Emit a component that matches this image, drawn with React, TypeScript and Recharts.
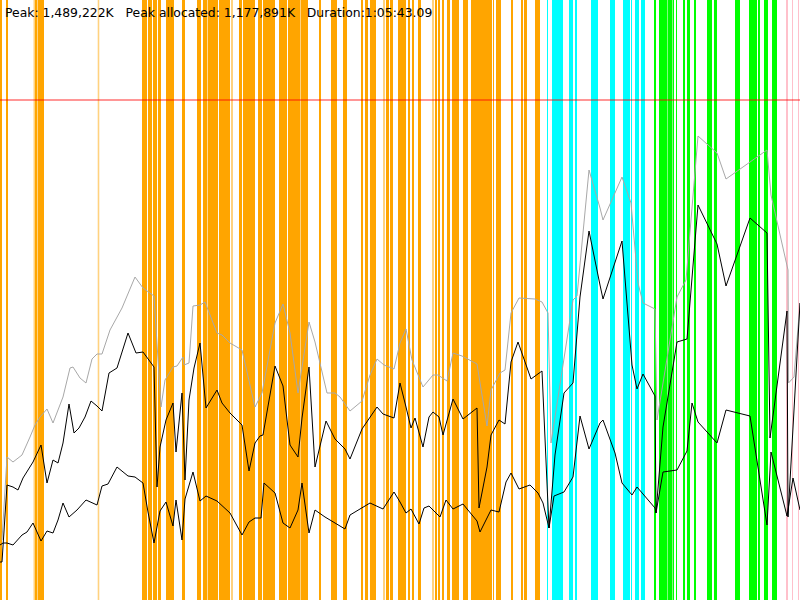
import { LineChart, Line, XAxis, YAxis, ReferenceArea, ReferenceLine } from 'recharts'

// time axis: 800 samples over the whole run, memory in MB
const duration = 800
const memoryMax = 1800
const peakLimit = 1500

const title = 'Peak: 1,489,222K   Peak allocated: 1,177,891K   Duration:1:05:43.09'

// [start, end] of phases, in samples
const orangePhases: [number, number][] = [
  [0, 2], [6, 8], [35, 37.5], [38, 44], [142, 147], [148, 152], [153, 157], [158, 161],
  [166, 174], [182, 185], [197, 201], [203, 207], [207.6, 218], [219, 230], [239, 242],
  [243, 255], [258, 262], [263, 275], [279, 287], [288, 300], [300.5, 308], [319, 321],
  [331, 337], [343, 347], [361, 363], [365, 368], [370, 376], [386, 389], [390, 393],
  [398, 406], [408, 410], [412, 414], [418, 421], [435, 437], [438, 440], [442, 444],
  [447, 450], [452, 459], [463, 468], [471, 492], [493, 494], [496, 501], [511, 513],
  [521, 523], [524, 527], [535, 540],
]
const paleOrangePhases: [number, number][] = [
  [33.5, 35], [97.7, 99.3], [231, 233], [383, 385], [432, 434],
]
const cyanPhases: [number, number][] = [
  [547, 548], [552, 563], [569, 573], [575, 577], [591, 598], [610, 615], [623, 630],
  [631, 632], [635, 639], [641, 645],
]
const greenPhases: [number, number][] = [
  [654, 656], [659, 667], [667.5, 672], [672.5, 674], [676, 677], [683, 685], [687, 690],
  [694, 696], [707, 712], [714, 717], [735, 740], [749, 757], [758, 760], [764, 768],
  [772, 777],
]
const pinkPhases: [number, number][] = [[786, 788], [792, 793], [798, 799]]

// [sample, MB]
const peakMemory: [number, number][] = [
  [2, 180], [7, 429], [13, 414], [22, 435], [30, 489], [35, 525], [40, 549], [47, 573],
  [53, 531], [63, 609], [70, 696], [73, 699], [80, 666], [86, 651], [92, 723], [97, 738],
  [102, 738], [110, 810], [122, 876], [135, 969], [143, 936], [154, 912], [161, 579],
  [165, 660], [173, 699], [177, 702], [183, 729], [184, 705], [189, 711], [193, 882],
  [200, 885], [205, 894], [217, 801], [222, 795], [230, 771], [242, 750], [255, 579],
  [262, 621], [275, 831], [283, 888], [290, 801], [298, 621], [309, 834], [315, 774],
  [327, 621], [335, 621], [340, 609], [350, 567], [362, 597], [370, 675], [377, 723],
  [384, 705], [394, 693], [400, 771], [406, 813], [412, 720], [423, 639], [433, 675],
  [438, 675], [447, 657], [453, 741], [462, 732], [477, 708], [487, 522], [491, 630],
  [500, 681], [505, 690], [511, 861], [519, 906], [535, 903], [542, 894], [548, 861],
  [551, 471], [573, 900], [577, 912], [589, 1290], [600, 1176], [603, 1140], [622, 1269],
  [631, 1191], [638, 951], [643, 891], [655, 873], [657, 540], [677, 909], [686, 960],
  [698, 1392], [717, 1341], [726, 1263], [767, 1350], [771, 1215], [788, 990],
  [788.5, 651], [794, 669], [800, 891],
]
const allocatedPeak: [number, number][] = [
  [0, 114], [2, 114], [7, 345], [13, 339], [18, 330], [23, 366], [33, 414], [41, 465],
  [47, 351], [53, 420], [58, 411], [63, 471], [69, 588], [74, 501], [79, 516], [85, 549],
  [91, 597], [97, 582], [102, 567], [109, 681], [117, 696], [128, 801], [136, 741],
  [143, 744], [154, 699], [157, 339], [160, 459], [166, 540], [173, 591], [176, 444],
  [182, 621], [185, 360], [189, 600], [194, 696], [200, 771], [206, 576], [217, 630],
  [222, 591], [230, 561], [242, 525], [249, 387], [255, 471], [260, 492], [263, 495],
  [275, 702], [283, 642], [290, 465], [298, 429], [302, 546], [309, 699], [315, 399],
  [326, 537], [335, 483], [345, 453], [350, 423], [362, 513], [377, 579], [383, 558],
  [394, 546], [400, 651], [406, 579], [411, 516], [415, 546], [423, 459], [429, 549],
  [433, 564], [439, 549], [443, 495], [453, 603], [463, 543], [477, 576], [479, 276],
  [487, 399], [491, 495], [499, 540], [505, 528], [511, 714], [518, 774], [531, 663],
  [542, 687], [549, 216], [555, 435], [564, 621], [573, 651], [580, 909], [589, 1107],
  [600, 945], [603, 903], [622, 1077], [632, 705], [637, 633], [643, 678], [655, 612],
  [656, 261], [663, 519], [677, 774], [687, 783], [698, 1185], [717, 1068], [726, 942],
  [750, 1146], [767, 1101], [770, 486], [787, 867], [788, 249], [800, 891],
]
const allocatedLow: [number, number][] = [
  [0, 165], [3, 171], [7, 171], [13, 165], [22, 195], [27, 204], [33, 231], [41, 177],
  [47, 207], [53, 201], [58, 240], [63, 291], [69, 249], [77, 270], [86, 300], [97, 285],
  [102, 342], [108, 348], [117, 399], [128, 372], [135, 369], [143, 351], [148, 264],
  [154, 171], [160, 267], [166, 294], [173, 222], [176, 300], [182, 180], [185, 303],
  [193, 384], [200, 297], [206, 312], [217, 297], [230, 261], [242, 195], [249, 234],
  [255, 246], [261, 246], [264, 351], [275, 321], [283, 231], [290, 216], [298, 270],
  [302, 351], [309, 201], [315, 270], [325, 249], [335, 231], [345, 213], [350, 255],
  [370, 291], [383, 273], [394, 324], [400, 294], [406, 261], [411, 273], [419, 228],
  [424, 276], [429, 282], [440, 249], [446, 300], [453, 273], [463, 288], [477, 237],
  [480, 204], [491, 270], [499, 264], [506, 354], [511, 381], [519, 333], [530, 345],
  [538, 321], [543, 291], [549, 216], [554, 312], [564, 324], [573, 369], [580, 552],
  [589, 453], [600, 531], [603, 540], [615, 441], [622, 351], [632, 315], [637, 339],
  [655, 276], [656, 261], [663, 384], [677, 390], [687, 447], [692, 591], [698, 534],
  [717, 471], [726, 570], [750, 552], [767, 225], [771, 444], [787, 252], [793, 366],
  [800, 270],
]

const toRows = (pts: [number, number][]) => pts.map(([t, v]) => ({ t, v }))

function phaseAreas(phases: [number, number][], color: string, key: string, opacity = 1) {
  return phases.map(([a, b], i) => (
    <ReferenceArea
      key={`${key}-${i}`}
      x1={a}
      x2={b}
      fill={color}
      fillOpacity={opacity}
      stroke="none"
    />
  ))
}

export default function App() {
  return (
    <div style={{ position: 'absolute', left: 0, top: 0, width: 800, height: 600, background: '#fff' }}>
      <LineChart width={800} height={600} margin={{ top: 0, right: 0, bottom: 0, left: 0 }}>
        <XAxis type="number" dataKey="t" domain={[0, duration]} hide allowDataOverflow />
        <YAxis type="number" domain={[0, memoryMax]} hide allowDataOverflow />
        {phaseAreas(orangePhases, '#ffa500', 'o')}
        {phaseAreas(paleOrangePhases, '#ffa500', 'po', 0.5)}
        {phaseAreas(cyanPhases, '#00ffff', 'c')}
        {phaseAreas(greenPhases, '#00ff00', 'g')}
        {phaseAreas(pinkPhases, '#ffc0cb', 'p')}
        <ReferenceLine y={peakLimit} stroke="#ff0000" strokeOpacity={0.55} strokeWidth={1.5} />
        <Line data={toRows(peakMemory)} dataKey="v" type="linear" stroke="#a8a8a8" strokeWidth={1} dot={false} activeDot={false} isAnimationActive={false} />
        <Line data={toRows(allocatedPeak)} dataKey="v" type="linear" stroke="#000" strokeWidth={1} dot={false} activeDot={false} isAnimationActive={false} />
        <Line data={toRows(allocatedLow)} dataKey="v" type="linear" stroke="#000" strokeWidth={1} dot={false} activeDot={false} isAnimationActive={false} />
      </LineChart>
      <div
        style={{
          position: 'absolute',
          left: 5,
          top: 5,
          fontFamily: '"DejaVu Sans", sans-serif',
          fontSize: 12.4,
          whiteSpace: 'pre',
          color: '#000',
        }}
      >
        {title}
      </div>
    </div>
  )
}
